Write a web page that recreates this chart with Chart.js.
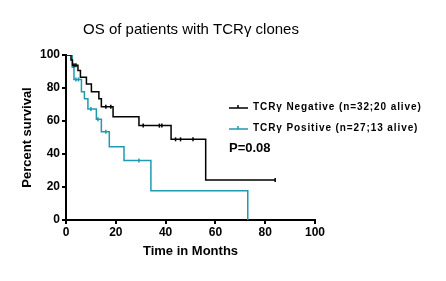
<!DOCTYPE html>
<html>
<head>
<meta charset="utf-8">
<script src="https://cdn.jsdelivr.net/npm/chart.js@4"></script>
<style>
  html, body { margin: 0; padding: 0; background: #fff; }
  #wrap { width: 446px; height: 281px; }
</style>
</head>
<body>
<div id="wrap"><canvas id="km"></canvas></div>
<script>
// ------------------------
// DATA
// ------------------------

const xTicks = [0, 20, 40, 60, 80, 100];
const yTicks = [0, 20, 40, 60, 80, 100];

// TCRy negative: step times (months) and survival after each step (%)
const negTime = [0, 2, 2.6, 4.8, 5.8, 8.2, 10.2, 13.2, 14.2, 18.9, 29.3, 42.2, 56.1, 84];
const negSurv = [100, 96.9, 93.8, 90.6, 86.5, 82.4, 77.8, 73.5, 68.7, 62.6, 57.2, 48.9, 24.2, 24.2];
const negCensTime = [3.2, 4, 16, 18, 31, 37.5, 38.5, 44, 46, 51, 84];
const negCensSurv = [93.8, 93.8, 68.7, 68.7, 57.2, 57.2, 57.2, 48.9, 48.9, 48.9, 24.2];

// TCRy positive
const posTime = [0, 2.5, 3.2, 6.2, 7.4, 8.8, 12.2, 14.2, 17.4, 23.3, 34.1, 73];
const posSurv = [100, 92.6, 85.2, 77.8, 73.5, 67.3, 61, 53.5, 44.4, 36, 17.8, 0];
const posCensTime = [4, 5, 10, 12.8, 16, 29.3];
const posCensSurv = [85.2, 85.2, 67.3, 61, 53.5, 36];

const labels = ["TCR\u03b3 Negative (n=32;20 alive)", "TCR\u03b3 Positive (n=27;13 alive)"];
const pValue = "P=0.08";
const title = "OS of patients with TCR\u03b3 clones";

const NEG_COLOR = "#000000";
const POS_COLOR = "#1f9ab2";
const FONT = "Arial, 'Liberation Sans', sans-serif";

const toPts = (xs, ys) => xs.map((x, i) => ({ x, y: ys[i] }));

// ------------------------
// TEXT OVERLAY
// ------------------------

const textPlugin = {
    id: "texts",
    afterDraw(chart) {
        const ctx = chart.ctx;
        const area = chart.chartArea;
        ctx.save();
        ctx.fillStyle = "#000";

        // title
        ctx.font = "15px " + FONT;
        ctx.textAlign = "center";
        ctx.textBaseline = "middle";
        ctx.fillText(title, 191, 30);

        // axis titles
        ctx.font = "bold 13px " + FONT;
        ctx.fillText("Time in Months", (area.left + area.right) / 2, 251);
        ctx.save();
        ctx.translate(27, (area.top + area.bottom) / 2);
        ctx.rotate(-Math.PI / 2);
        ctx.fillText("Percent survival", 0, 0);
        ctx.restore();

        // legend
        const rows = [[labels[0], NEG_COLOR, 107], [labels[1], POS_COLOR, 128]];
        ctx.textAlign = "left";
        ctx.font = "bold 10px " + FONT;
        ctx.letterSpacing = "0.9px";
        rows.forEach(([txt, col, y]) => {
            ctx.strokeStyle = col;
            ctx.lineWidth = 1.5;
            ctx.beginPath();
            ctx.moveTo(229, y + 1);
            ctx.lineTo(248, y + 1);
            ctx.moveTo(238, y + 1);
            ctx.lineTo(238, y - 2);
            ctx.stroke();
            ctx.fillStyle = "#000";
            ctx.fillText(txt, 253, y);
        });
        ctx.letterSpacing = "0px";

        ctx.font = "bold 13px " + FONT;
        ctx.fillText(pValue, 229, 148);
        ctx.restore();
    }
};

// ------------------------
// CHART
// ------------------------

const stepLine = (data, color) => ({
    type: "line",
    data,
    borderColor: color,
    backgroundColor: color,
    borderWidth: 1.5,
    stepped: "before",
    pointRadius: 0,
    fill: false
});

const censor = (data, color) => ({
    type: "line",
    data,
    showLine: false,
    borderColor: color,
    backgroundColor: color,
    pointStyle: "line",
    rotation: 90,
    pointRadius: 2,
    pointBorderWidth: 1.5
});

new Chart(document.getElementById("km"), {
    type: "line",
    data: {
        datasets: [
            stepLine(toPts(negTime, negSurv), NEG_COLOR),
            censor(toPts(negCensTime, negCensSurv), NEG_COLOR),
            stepLine(toPts(posTime, posSurv), POS_COLOR),
            censor(toPts(posCensTime, posCensSurv), POS_COLOR)
        ]
    },
    options: {
        responsive: true,
        maintainAspectRatio: false,
        animation: false,
        layout: { padding: { left: 0, right: 131, top: 55, bottom: 0 } },
        plugins: { legend: { display: false }, tooltip: { enabled: false } },
        scales: {
            x: {
                type: "linear",
                min: 0,
                max: 100,
                afterBuildTicks: s => { s.ticks = xTicks.map(v => ({ value: v })); },
                afterFit: s => { s.height = 61; },
                ticks: { color: "#000", font: { family: FONT, size: 12, weight: "bold" }, padding: 1 },
                grid: { drawOnChartArea: false, drawTicks: true, tickLength: 4, color: "#000", lineWidth: 2 },
                border: { display: true, color: "#000", width: 2 }
            },
            y: {
                min: 0,
                max: 100,
                afterBuildTicks: s => { s.ticks = yTicks.map(v => ({ value: v })); },
                afterFit: s => { s.width = 66; },
                ticks: { color: "#000", font: { family: FONT, size: 12, weight: "bold" }, padding: 2 },
                grid: { drawOnChartArea: false, drawTicks: true, tickLength: 4, color: "#000", lineWidth: 2 },
                border: { display: true, color: "#000", width: 2 }
            }
        }
    },
    plugins: [textPlugin]
});
</script>
</body>
</html>
